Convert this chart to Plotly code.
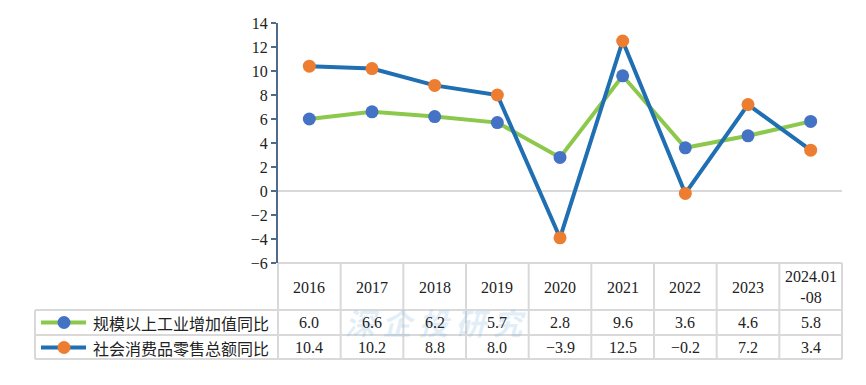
import plotly.graph_objects as go

categories = ["2016", "2017", "2018", "2019", "2020", "2021", "2022", "2023", "2024.01-08"]
header_labels = ["2016", "2017", "2018", "2019", "2020", "2021", "2022", "2023", "2024.01<br>-08"]
industry = [6.0, 6.6, 6.2, 5.7, 2.8, 9.6, 3.6, 4.6, 5.8]
retail = [10.4, 10.2, 8.8, 8.0, -3.9, 12.5, -0.2, 7.2, 3.4]
series_names = ["规模以上工业增加值同比", "社会消费品零售总额同比"]
y_ticks = [-6, -4, -2, 0, 2, 4, 6, 8, 10, 12, 14]

W, H = 866, 385
L, R, T, B = 278, 842, 23, 263

def px(x):
    return (x - L) / (R - L)

def py(y):
    return (B - y) / (B - T)

GREEN = "#8cc84b"
BLUE_M = "#4472c4"
BLUE_L = "#1f6fb2"
ORANGE = "#ed7d31"
GRID = "#d9d9d9"
AXIS = "#4f6a8a"
NUMFONT = "Liberation Serif"
CJK = "Noto Sans CJK SC"

fig = go.Figure()
fig.add_trace(go.Scatter(
    x=categories, y=industry, mode="lines+markers", name=series_names[0],
    line=dict(color=GREEN, width=4), marker=dict(color=BLUE_M, size=13),
    cliponaxis=False))
fig.add_trace(go.Scatter(
    x=categories, y=retail, mode="lines+markers", name=series_names[1],
    line=dict(color=BLUE_L, width=4), marker=dict(color=ORANGE, size=13),
    cliponaxis=False))

shapes = []
annotations = []

# watermark (drawn first, faint)
annotations.append(dict(x=px(435), xref="paper", y=py(322), yref="paper",
                        text="<i><b>深 企 投 研 究</b></i>", showarrow=False,
                        font=dict(family=CJK, size=30, color="rgba(120,180,225,0.22)"),
                        xanchor="center", yanchor="middle"))

shapes.append(dict(type="line", xref="paper", yref="y", x0=0, x1=1, y0=0, y1=0,
                   line=dict(color=GRID, width=2), layer="below"))

row_lines = [263, 310, 335, 359]
tbl_left = 35
n = len(categories)
shapes.append(dict(type="line", xref="paper", yref="paper", x0=0, x1=1,
                   y0=py(263), y1=py(263), line=dict(color=GRID, width=2)))
for yl in row_lines[1:]:
    shapes.append(dict(type="line", xref="paper", yref="paper", x0=px(tbl_left), x1=1,
                       y0=py(yl), y1=py(yl), line=dict(color=GRID, width=2)))
for i in range(n + 1):
    xx = i / n
    shapes.append(dict(type="line", xref="paper", yref="paper", x0=xx, x1=xx,
                       y0=py(263), y1=py(359), line=dict(color=GRID, width=2)))
shapes.append(dict(type="line", xref="paper", yref="paper", x0=px(tbl_left), x1=px(tbl_left),
                   y0=py(310), y1=py(359), line=dict(color=GRID, width=2)))

for i, lab in enumerate(header_labels):
    annotations.append(dict(x=i, xref="x", y=py(287), yref="paper", text=lab,
                            showarrow=False, font=dict(family=NUMFONT, size=16, color="#222"),
                            xanchor="center", yanchor="middle"))
rows = [(industry, 322.5, GREEN, BLUE_M), (retail, 347.5, BLUE_L, ORANGE)]
for (vals, yc, lc, mc), name in zip(rows, series_names):
    for i, v in enumerate(vals):
        annotations.append(dict(x=i, xref="x", y=py(yc), yref="paper",
                                text=f"{v:.1f}".replace("-", "−"), showarrow=False,
                                font=dict(family=NUMFONT, size=16, color="#222"),
                                xanchor="center", yanchor="middle"))
    shapes.append(dict(type="line", xref="paper", yref="paper", x0=px(41), x1=px(86),
                       y0=py(yc), y1=py(yc), line=dict(color=lc, width=4)))
    r = 6.5
    shapes.append(dict(type="circle", xref="paper", yref="paper",
                       x0=px(64 - r), x1=px(64 + r), y0=py(yc + r), y1=py(yc - r),
                       fillcolor=mc, line=dict(color=mc, width=0)))
    annotations.append(dict(x=px(91), xref="paper", y=py(yc), yref="paper", text=name,
                            showarrow=False, font=dict(family=CJK, size=16, color="#222"),
                            xanchor="left", yanchor="middle"))

fig.update_layout(
    width=W, height=H,
    margin=dict(l=L, r=W - R, t=T, b=H - B),
    paper_bgcolor="white", plot_bgcolor="white",
    showlegend=False,
    shapes=shapes, annotations=annotations,
    xaxis=dict(type="category", range=[-0.5, n - 0.5], showticklabels=False,
               showgrid=False, zeroline=False, showline=False, ticks=""),
    yaxis=dict(range=[-6, 14], tickvals=y_ticks,
               ticktext=[str(t).replace("-", "−") for t in y_ticks],
               showgrid=False, zeroline=False, showline=True, linecolor=AXIS, linewidth=2,
               ticks="outside", ticklen=5, tickcolor=AXIS, tickwidth=2,
               tickfont=dict(family=NUMFONT, size=16, color="#222")),
)

fig.write_html("out.html", config={"displayModeBar": False},
               post_script="document.body.style.margin='0';")
